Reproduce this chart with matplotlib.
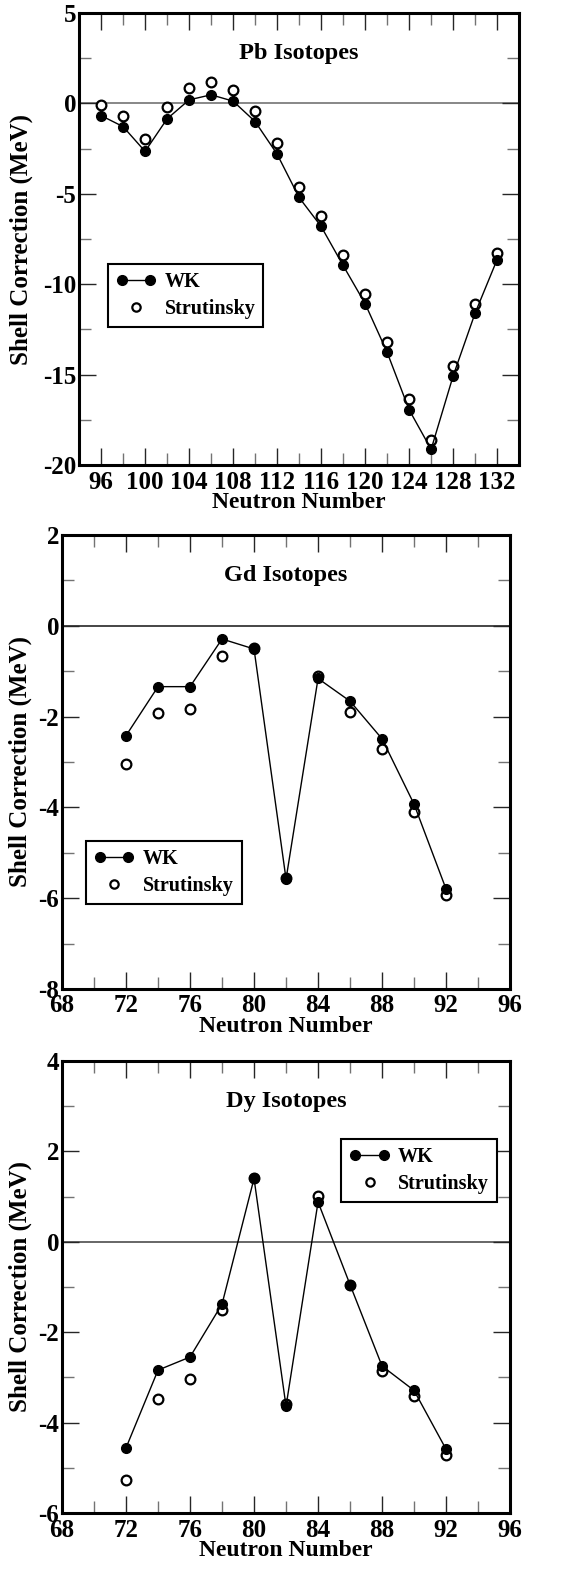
import matplotlib
matplotlib.use("Agg")
import matplotlib.pyplot as plt
from matplotlib.ticker import MultipleLocator
from matplotlib.legend_handler import HandlerLine2D

plt.rcParams['font.family'] = ['Liberation Serif', 'DejaVu Serif']
plt.rcParams['font.weight'] = 'bold'
plt.rcParams['axes.unicode_minus'] = False

# Pb isotopes
pb_n = [96, 98, 100, 102, 104, 106, 108, 110, 112, 114, 116, 118, 120, 122, 124, 126, 128, 130, 132]
pb_wk = [-0.67, -1.28, -2.65, -0.85, 0.2, 0.48, 0.13, -1.0, -2.8, -5.2, -6.8, -8.96,
         -11.07, -13.76, -16.94, -19.13, -15.07, -11.59, -8.63]
pb_strut = [-0.11, -0.7, -1.98, -0.2, 0.87, 1.18, 0.72, -0.39, -2.2, -4.6, -6.22, -8.37,
            -10.52, -13.2, -16.37, -18.6, -14.52, -11.07, -8.26]

# Gd isotopes
gd_n = [72, 74, 76, 78, 80, 82, 84, 86, 88, 90, 92]
gd_wk = [-2.42, -1.34, -1.34, -0.29, -0.51, -5.58, -1.16, -1.66, -2.49, -3.93, -5.8]
gd_strut = [-3.05, -1.93, -1.84, -0.67, -0.49, -5.56, -1.1, -1.89, -2.72, -4.11, -5.93]

# Dy isotopes
dy_n = [72, 74, 76, 78, 80, 82, 84, 86, 88, 90, 92]
dy_wk = [-4.56, -2.84, -2.55, -1.38, 1.40, -3.64, 0.88, -0.95, -2.75, -3.29, -4.59]
dy_strut = [-5.28, -3.48, -3.03, -1.5, 1.40, -3.6, 1.01, -0.95, -2.86, -3.42, -4.72]


def panel(fig, rect, n, wk, strut, title, xlim, ylim, xmaj, ymaj, ymin, leg_xy, ylab_x, zcol):
	ax = fig.add_axes(rect)
	ax.axhline(0, color=zcol, lw=1.2, zorder=1)
	wk_line, = ax.plot(n, wk, '-', color='black', lw=1, marker='o', ms=7,
	                   mfc='black', mec='black', zorder=3, label='WK')
	st_line, = ax.plot(n, strut, 'o', ms=7, mfc='white', mec='black', mew=1.6,
	                   zorder=2, label='Strutinsky')
	ax.set_xlim(*xlim)
	ax.set_ylim(*ylim)
	ax.xaxis.set_major_locator(MultipleLocator(xmaj))
	ax.xaxis.set_minor_locator(MultipleLocator(xmaj / 2))
	ax.yaxis.set_major_locator(MultipleLocator(ymaj))
	ax.yaxis.set_minor_locator(MultipleLocator(ymin))
	ax.tick_params(which='both', direction='in', top=True, right=True, labelsize=18, pad=2, width=1)
	ax.tick_params(axis='x', which='both', pad=4)
	ax.tick_params(which='major', length=12, color='0.15')
	ax.tick_params(which='minor', length=8.5, color='0.45')
	for s in ax.spines.values():
		s.set_linewidth(2.2)
	ax.set_xlabel('Neutron Number', fontsize=17, fontweight='bold', labelpad=-1)
	ax.set_ylabel('Shell Correction (MeV)', fontsize=18, fontweight='bold')
	ax.yaxis.set_label_coords(ylab_x, 0.5)
	ax.text(0.5, 0.91, title, transform=ax.transAxes, ha='center', va='center', fontsize=17.5, fontweight='bold')
	# open circle in legend is a single centred marker
	leg_open, = ax.plot([], [], 'o', ms=6, mfc='white', mec='black', mew=1.6, label='Strutinsky')
	leg = ax.legend(handles=[wk_line, leg_open], loc='upper left', bbox_to_anchor=leg_xy,
	                borderaxespad=0, numpoints=2, fancybox=False, framealpha=1, edgecolor='black',
	                prop={'size': 14.5, 'weight': 'bold'}, handlelength=2.0, handletextpad=0.4,
	                borderpad=0.4, labelspacing=0.35,
	                handler_map={leg_open: HandlerLine2D(numpoints=1)})
	leg.get_frame().set_linewidth(1.5)
	return ax


fig = plt.figure(figsize=(5.73, 15.76), dpi=100)

panel(fig, [0.138, 0.7049, 0.768, 0.2868], pb_n, pb_wk, pb_strut, 'Pb Isotopes',
      (94, 134), (-20, 5), 4, 5, 2.5, (0.066, 0.445), -0.105, '0.45')
panel(fig, [0.1082, 0.3725, 0.782, 0.288], gd_n, gd_wk, gd_strut, 'Gd Isotopes',
      (68, 96), (-8, 2), 4, 2, 1, (0.054, 0.326), -0.067, '0.15')
panel(fig, [0.1082, 0.040, 0.782, 0.2868], dy_n, dy_wk, dy_strut, 'Dy Isotopes',
      (68, 96), (-6, 4), 4, 2, 1, (0.6235, 0.827), -0.067, '0.3')

fig.savefig('out.png', dpi=100)
